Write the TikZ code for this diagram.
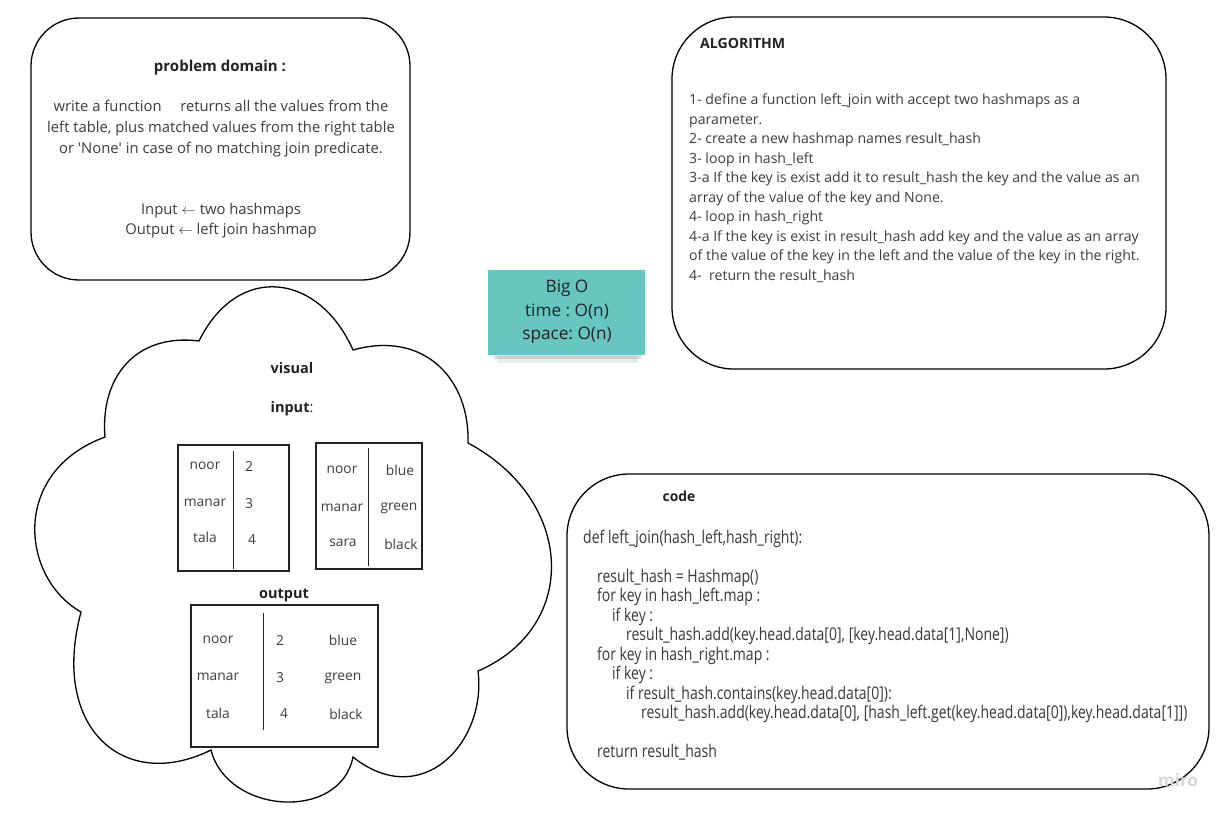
\documentclass[tikz,border=0pt]{standalone}
\usepackage{fontspec}
\setmainfont{Open Sans}
\newfontfamily\codefont[FakeStretch=0.8]{Open Sans}
\frenchspacing
\definecolor{ink}{RGB}{60,60,60}
\definecolor{head}{RGB}{34,34,34}
\definecolor{sticky}{RGB}{103,198,192}
\definecolor{watermark}{RGB}{215,215,215}
\tikzset{
  card/.style={draw=black,line width=1.3pt,fill=white},
  title/.style={font=\bfseries\fontsize{14.5}{17}\selectfont,text=head,inner sep=0pt},
  body/.style={font=\fontsize{14.8}{21}\selectfont,text=ink,inner sep=0pt},
  cell/.style={font=\fontsize{13.8}{16}\selectfont,text=ink,inner sep=0pt},
  tbl/.style={draw=head,line width=1.6pt},
  sep/.style={draw=head,line width=0.9pt}
}

\begin{document}
\begin{tikzpicture}[x=1pt,y=-1pt]
  \useasboundingbox[fill=white] (0,0) rectangle (1226,815);
  % problem domain
  \draw[card,rounded corners=48pt] (31,18) rectangle (410,280);
  \node[title,font=\bfseries\fontsize{15}{17}\selectfont] (pdtitle) at (220,68) {problem domain :};
  \node[body,align=center] (pdtext) at (221,129) {write a function\quad\ returns all the values from the\\
    left table, plus matched values from the right table\\
    or \textquotesingle None\textquotesingle{} in case of no matching join predicate.};
  \node[body,font=\fontsize{14.8}{19.5}\selectfont,align=center] (pdio) at (221,220.5) {Input $\leftarrow$ two hashmaps\\Output $\leftarrow$ left join hashmap};
  % algorithm
  \draw[card,rounded corners=62pt] (672,17) rectangle (1166,369);
  \node[title,font=\bfseries\fontsize{14.1}{17}\selectfont,anchor=west] (algtitle) at (700,43) {ALGORITHM};
  \node[body,font=\fontsize{14.1}{19.5}\selectfont,align=left,anchor=north west] (algtext) at (689,94) {%
    1- define a function left\_join with accept two hashmaps as a\\
    parameter.\\
    2- create a new hashmap names result\_hash\\
    3- loop in hash\_left\\
    3-a If the key is exist add it to result\_hash the key and the value as an\\
    array of the value of the key and None.\\
    4- loop in hash\_right\\
    4-a If the key is exist in result\_hash add key and the value as an array\\
    of the value of the key in the left and the value of the key in the right.\\
    4-\ \ return the result\_hash};
  % big o note
  \fill[black,opacity=0.12] (494,349) rectangle (641,359);
  \fill[black,opacity=0.08] (497,356) rectangle (638,363);
  \fill[sticky] (488,270) rectangle (645,355);
  \node[body,font=\fontsize{17.2}{23.5}\selectfont,align=center,text=head] (bigo) at (567,312) {Big O\\time : O(n)\\space: O(n)};
  % visual cloud
  \draw[card] (199,341) .. controls (238,262) and (319,273) .. (353,350)
    .. controls (424,330) and (470,379) .. (468,443)
    .. controls (575,500) and (580,627) .. (478,671)
    .. controls (487,742) and (422,812) .. (353,757)
    .. controls (340,822) and (227,814) .. (211,750)
    .. controls (124,793) and (50,728) .. (81,612)
    .. controls (21,578) and (10,472) .. (105,437)
    .. controls (100,378) and (135,333) .. (199,341) -- cycle;
  \node[title] (vistitle) at (292,368) {visual};
  \node[title] (intitle) at (292,409) {input\textmd{:}};
  % left input table
  \draw[tbl] (178,445) rectangle (289,571);
  \draw[sep] (233,451) -- (233,569);
  \node[cell] (l1k) at (205,466) {noor};
  \node[cell] (l2k) at (205,503) {manar};
  \node[cell] (l3k) at (205,537) {tala};
  \node[cell] (l1v) at (249,466) {2};
  \node[cell] (l2v) at (249,504) {3};
  \node[cell] (l3v) at (252,540) {4};
  % right input table
  \draw[tbl] (316,443) rectangle (422,569);
  \draw[sep] (368,448) -- (368,566);
  \node[cell] (r1k) at (342,470) {noor};
  \node[cell] (r2k) at (342,508) {manar};
  \node[cell] (r3k) at (343,543) {sara};
  \node[cell] (r1v) at (400,470) {blue};
  \node[cell] (r2v) at (399,508) {green};
  \node[cell] (r3v) at (401,544) {black};
  % output table
  \node[title] (outtitle) at (284,595) {output};
  \draw[tbl] (191,605) rectangle (378,747);
  \draw[sep] (263,613) -- (263,730);
  \node[cell] (o1k) at (218,640) {noor};
  \node[cell] (o2k) at (218,677) {manar};
  \node[cell] (o3k) at (218,713) {tala};
  \node[cell] (o1v) at (280,640) {2};
  \node[cell] (o2v) at (280,678) {3};
  \node[cell] (o3v) at (284,714) {4};
  \node[cell] (o1w) at (343,640) {blue};
  \node[cell] (o2w) at (343,678) {green};
  \node[cell] (o3w) at (346,714) {black};
  % code
  \draw[card,rounded corners=62pt] (567,474) rectangle (1209,789);
  \node[title,font=\bfseries\fontsize{13.9}{17}\selectfont] (codetitle) at (679,496) {code};
  \node[body,font=\codefont\fontsize{17.5}{19.5}\selectfont,text=head!90,align=left,anchor=north west] (codetext) at (583,529.5) {%
    def left\_join(hash\_left,hash\_right):\\[19.5pt]
    \hspace*{14pt}result\_hash = Hashmap()\\
    \hspace*{14pt}for key in hash\_left.map :\\
    \hspace*{29pt}if key :\\
    \hspace*{43pt}result\_hash.add(key.head.data[0], [key.head.data[1],None])\\
    \hspace*{14pt}for key in hash\_right.map :\\
    \hspace*{29pt}if key :\\
    \hspace*{43pt}if result\_hash.contains(key.head.data[0]):\\
    \hspace*{58pt}result\_hash.add(key.head.data[0], [hash\_left.get(key.head.data[0]),key.head.data[1]])\\[19.5pt]
    \hspace*{14pt}return result\_hash};
  \node[font=\bfseries\fontsize{17}{19}\selectfont,text=watermark,inner sep=0pt] (miro) at (1178,780) {miro};
\end{tikzpicture}
\end{document}
